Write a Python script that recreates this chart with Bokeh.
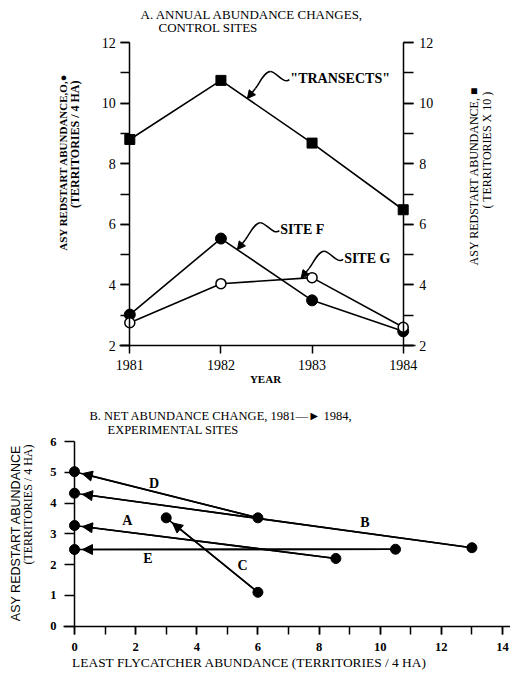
import math
from bokeh.plotting import figure
from bokeh.layouts import column
from bokeh.models import (LinearAxis, SingleIntervalTicker, FixedTicker, Arrow, NormalHead,
                          Label, ColumnDataSource, Range1d)
from bokeh.embed import file_html
from bokeh.resources import INLINE

# ---------------- data ----------------
years = [1981, 1982, 1983, 1984]
transects = [8.8, 10.75, 8.68, 6.48]
site_f = [3.02, 5.53, 3.49, 2.47]
site_g = [2.75, 4.04, 4.24, 2.6]

sites = ["A", "B", "C", "D", "E"]
fly_1981 = [8.55, 13.0, 6.0, 6.0, 10.5]
red_1981 = [2.2, 2.55, 1.1, 3.52, 2.5]
fly_1984 = [0.0, 0.0, 3.0, 0.0, 0.0]
red_1984 = [3.27, 4.32, 3.52, 5.02, 2.49]
site_label_x = [1.73, 9.5, 5.5, 2.6, 2.4]
site_label_y = [3.43, 3.37, 1.97, 4.65, 2.19]

SERIF = "Liberation Serif"
SANS = "Liberation Sans"
W = 510
TOP_H = 392
BOT_H = 293
LW = 1.6


def style_axis(ax, size, bold=False, tick=9, standoff=5):
    ax.axis_line_width = 1.5
    ax.axis_line_color = "black"
    ax.major_tick_line_width = 1.5
    ax.minor_tick_line_width = 1.5
    ax.major_tick_line_color = "black"
    ax.minor_tick_line_color = "black"
    ax.major_tick_in = 0
    ax.minor_tick_in = 0
    ax.major_tick_out = tick
    ax.minor_tick_out = tick
    ax.major_label_text_font = SERIF
    ax.major_label_text_font_size = size
    ax.major_label_text_font_style = "bold" if bold else "normal"
    ax.major_label_text_color = "black"
    ax.major_label_standoff = standoff


def make_fig(x0, x1, y0, y1, h):
    p = figure(width=W, height=h, x_range=Range1d(x0, x1), y_range=Range1d(y0, y1),
               output_backend="svg", toolbar_location=None,
               x_axis_location=None, y_axis_location=None,
               min_border=0, min_border_left=0, min_border_right=0,
               min_border_top=0, min_border_bottom=0)
    p.grid.visible = False
    p.outline_line_color = None
    p.background_fill_color = "white"
    p.border_fill_color = "white"
    return p


def add_label(p, xy, text, size, font=SERIF, bold=False, align="left", angle=0.0):
    p.add_layout(Label(x=xy[0], y=xy[1], text=text, text_font=font,
                       text_font_size=size, text_font_style="bold" if bold else "normal",
                       text_align=align, text_baseline="middle", angle=angle,
                       text_color="black"))


def interp(xs, ys, x):
    for i in range(len(xs) - 1):
        if xs[i] <= x <= xs[i + 1]:
            t = (x - xs[i]) / (xs[i + 1] - xs[i])
            return ys[i] + t * (ys[i + 1] - ys[i])
    return ys[-1]


def callout(p, sx, sy, x_tip, y_tip, text):
    def pt(dx, dy):
        return x_tip + dx / sx, y_tip - dy / sy
    a = pt(42, -19); b = pt(23, -27); c = pt(8, -10)
    c1 = pt(36, -14); c2 = pt(29, -27)
    c3 = pt(17, -27); c4 = pt(12, -15)
    p.bezier(x0=[a[0], b[0]], y0=[a[1], b[1]], x1=[b[0], c[0]], y1=[b[1], c[1]],
             cx0=[c1[0], c3[0]], cy0=[c1[1], c3[1]], cx1=[c2[0], c4[0]], cy1=[c2[1], c4[1]],
             line_color="black", line_width=1.5)
    p.add_layout(Arrow(end=NormalHead(size=8, fill_color="black", line_color="black"),
                       x_start=c[0], y_start=c[1], x_end=x_tip, y_end=y_tip,
                       line_width=1.5, line_color="black"))
    add_label(p, pt(43, -20), text, "14px", bold=True)


# ---------------- top panel (page y 0..392) ----------------
T_SX, T_SY = (402.7 - 129.3) / 3.0, (345.0 - 42.0) / 10.0
TX0 = 1981 - 129.3 / T_SX
TY1 = 12 + 42.0 / T_SY
top = make_fig(TX0, TX0 + W / T_SX, TY1 - TOP_H / T_SY, TY1, TOP_H)


def tmap(px, py):
    return TX0 + px / T_SX, TY1 - py / T_SY


xax = LinearAxis(ticker=FixedTicker(ticks=years), fixed_location=2,
                 bounds=(tmap(119, 0)[0], tmap(415, 0)[0]))
style_axis(xax, "14px", tick=8, standoff=6)
top.add_layout(xax, "below")
lax = LinearAxis(ticker=SingleIntervalTicker(interval=2, num_minor_ticks=2),
                 fixed_location=1981, bounds=(2, 12))
style_axis(lax, "14px", tick=9, standoff=5)
top.add_layout(lax, "left")
rax = LinearAxis(ticker=SingleIntervalTicker(interval=2, num_minor_ticks=2),
                 fixed_location=1984, bounds=(2, 12))
style_axis(rax, "14px", tick=10, standoff=6)
top.add_layout(rax, "right")

src = ColumnDataSource(dict(year=years, tr=transects, f=site_f, g=site_g))
top.line("year", "tr", source=src, line_color="black", line_width=LW)
top.line("year", "f", source=src, line_color="black", line_width=LW)
top.line("year", "g", source=src, line_color="black", line_width=LW)
top.scatter("year", "tr", source=src, marker="square", size=10, fill_color="black", line_color="black")
top.scatter("year", "f", source=src, marker="circle", size=11, fill_color="black", line_color="black")
top.scatter("year", "g", source=src, marker="circle", size=10, fill_color="white",
            line_color="black", line_width=1.5)

callout(top, T_SX, T_SY, 1982.29, interp(years, transects, 1982.29), '"TRANSECTS"')
callout(top, T_SX, T_SY, 1982.18, interp(years, site_f, 1982.18), "SITE F")
callout(top, T_SX, T_SY, 1982.88, interp(years, site_g, 1982.88), "SITE G")

add_label(top, tmap(140, 14), "A.  ANNUAL ABUNDANCE CHANGES,", "13px")
add_label(top, tmap(158, 27), "CONTROL SITES", "13px")
add_label(top, tmap(265, 378), "YEAR", "11px", bold=True, align="center")
add_label(top, tmap(62, 73), "ASY REDSTART ABUNDANCE,O,\u25CF", "11px", bold=True,
          align="right", angle=math.pi / 2)
add_label(top, tmap(74, 80), "(TERRITORIES / 4 HA)", "12px", bold=True,
          align="right", angle=math.pi / 2)
add_label(top, tmap(473, 86), "ASY REDSTART ABUNDANCE, \u25A0", "12px",
          align="right", angle=math.pi / 2)
add_label(top, tmap(486, 85), "( TERRITORIES  X  10 )", "12px",
          align="right", angle=math.pi / 2)

# ---------------- bottom panel (page y 392..685) ----------------
B_OFF = TOP_H
B_SX, B_SY = (502.0 - 74.0) / 14.0, (625.7 - 441.0) / 6.0
BX0 = -74.0 / B_SX
BY1 = 6 + (441.0 - B_OFF) / B_SY
bot = make_fig(BX0, BX0 + W / B_SX, BY1 - BOT_H / B_SY, BY1, BOT_H)


def bmap(px, py):
    return BX0 + px / B_SX, BY1 - (py - B_OFF) / B_SY


bxax = LinearAxis(ticker=SingleIntervalTicker(interval=2, num_minor_ticks=2), fixed_location=0,
                  bounds=(bmap(63, 0)[0], bmap(510, 0)[0]))
style_axis(bxax, "12.5px", bold=True, tick=8, standoff=9)
bot.add_layout(bxax, "below")
byax = LinearAxis(ticker=SingleIntervalTicker(interval=1, num_minor_ticks=0), fixed_location=0,
                  bounds=(0, 6))
style_axis(byax, "12.5px", bold=True, tick=10, standoff=8)
bot.add_layout(byax, "left")

bsrc = ColumnDataSource(dict(x0=fly_1981, y0=red_1981, x1=fly_1984, y1=red_1984))
bot.segment(x0="x0", y0="y0", x1="x1", y1="y1", source=bsrc, line_color="black", line_width=LW)
for xs, ys, xe, ye in zip(fly_1981, red_1981, fly_1984, red_1984):
    dxp, dyp = (xe - xs) * B_SX, (ye - ys) * B_SY
    L = math.hypot(dxp, dyp)
    tip_x = xe - (dxp / L) * 8 / B_SX
    tip_y = ye - (dyp / L) * 8 / B_SY
    bot.add_layout(Arrow(end=NormalHead(size=10, fill_color="black", line_color="black"),
                         x_start=xs, y_start=ys, x_end=tip_x, y_end=tip_y,
                         line_width=LW, line_color="black"))
bot.scatter("x0", "y0", source=bsrc, marker="circle", size=10, fill_color="black", line_color="black")
bot.scatter("x1", "y1", source=bsrc, marker="circle", size=10, fill_color="black", line_color="black")
for s, lx, ly in zip(sites, site_label_x, site_label_y):
    add_label(bot, (lx, ly), s, "14px", bold=True, align="center")

add_label(bot, bmap(89, 415), "B.  NET ABUNDANCE CHANGE, 1981\u2014\u25BA 1984,", "12.5px")
add_label(bot, bmap(107, 429), "EXPERIMENTAL SITES", "12.5px")
add_label(bot, bmap(249, 662), "LEAST FLYCATCHER ABUNDANCE (TERRITORIES / 4 HA)", "13.4px", align="center")
add_label(bot, bmap(15, 444), "ASY REDSTART ABUNDANCE", "12.5px", font=SANS, align="right", angle=math.pi / 2)
add_label(bot, bmap(27, 444), "(TERRITORIES / 4 HA)", "12px", align="right", angle=math.pi / 2)

layout = column(top, bot)
open("out.html", "w").write(file_html(layout, INLINE))
